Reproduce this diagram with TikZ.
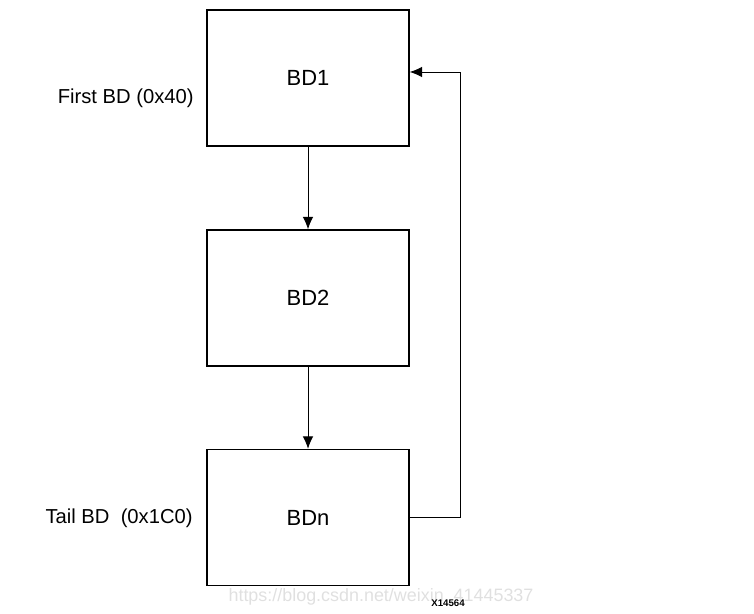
\documentclass[tikz,border=0pt]{standalone}
\usepackage{fontspec}
\setmainfont{Liberation Sans}
\usetikzlibrary{arrows.meta,positioning,calc}

\begin{document}
\begin{tikzpicture}[x=0.02cm,y=-0.02cm]
\useasboundingbox (0,0) rectangle (754,614);
\tikzset{bdbox/.style={draw,line width=0.9pt,minimum width=4.04cm,minimum height=2.72cm,inner sep=0pt,font=\fontsize{12.5}{14}\selectfont},
  bdlabel/.style={anchor=east,inner sep=0pt,font=\fontsize{11.5}{13}\selectfont},
  link/.style={-{Latex[length=7pt,width=6pt]},line width=0.5pt}}
\node[bdbox] (bd1) at (308,78) {BD1};
\node[bdbox] (bd2) at (308,298) {BD2};
\node[bdbox] (bdn) at (308,517.5) {BDn};
\node[bdlabel] (first) at (194,98) {First BD (0x40)};
\node[bdlabel] (tail) at (193,518) {Tail BD\ \ (0x1C0)};
\coordinate (back) at (460,72);
\draw[link] (bd1.south) -- (bd2.north);
\draw[link] (bd2.south) -- (bdn.north);
\draw[link] (bdn.east) -| (back) -- (bd1.east |- back);
% watermark and figure id
\node[text=black!12,font=\fontsize{10.2}{12}\selectfont] (mark) at (381,597) {https://blog.csdn.net/weixin\_41445337};
\node[font=\bfseries\fontsize{5.5}{6}\selectfont] (fig) at (448,603) {X14564};
\end{tikzpicture}
\end{document}
